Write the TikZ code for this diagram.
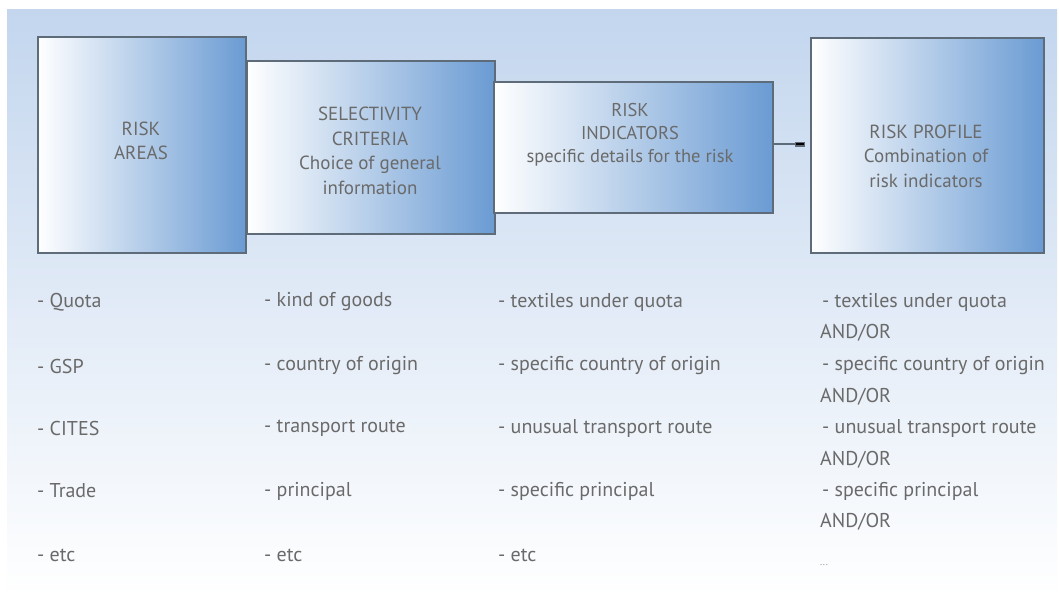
\documentclass[tikz,border=0pt]{standalone}
\usepackage{fontspec}
\setmainfont{PT Sans}
\usetikzlibrary{arrows.meta}
\definecolor{bgblue}{HTML}{C3D6EE}
\definecolor{boxblue}{HTML}{6A9BD3}
\definecolor{boxline}{HTML}{5E6B78}
\definecolor{txtgray}{HTML}{6A6A6A}
\tikzset{
  box/.style={draw=boxline, line width=1.6pt, left color=white, right color=boxblue, anchor=north west, inner sep=0pt},
  boxtext/.style={text=txtgray, align=center, font=\fontsize{19}{24.5}\selectfont},
  listtext/.style={text=txtgray, anchor=west, inner sep=0pt, font=\fontsize{20}{22}\selectfont},
  conn/.style={draw=boxline, line width=1.4pt, -{Rectangle[length=10pt,width=5pt,fill=black]}, shorten >=5pt}
}
\begin{document}
\begin{tikzpicture}[x=1pt,y=-1pt]
\useasboundingbox (0,0) rectangle (1059,605);
\fill[white] (0,0) rectangle (1059,605);
\shade[top color=bgblue, bottom color=white] (7,9) rectangle (1057,597);
% boxes
\node[box, minimum width=208pt, minimum height=216pt] (ra) at (37,36) {};
\node[box, minimum width=248pt, minimum height=173pt] (sc) at (246,60) {};
\node[box, minimum width=279pt, minimum height=131pt] (ri) at (493,81) {};
\node[box, minimum width=233pt, minimum height=215pt] (rp) at (810,37) {};
% box texts
\node[boxtext] (rat) at (141,141) {RISK\\AREAS};
\node[boxtext] (sct) at (370,151) {SELECTIVITY\\CRITERIA\\Choice of general\\information};
\node[boxtext, font=\fontsize{18.5}{23}\selectfont] (rit) at (630,135) {RISK\\INDICATORS\\specific details for the risk};
\node[boxtext] (rpt) at (926,156) {RISK PROFILE\\Combination of\\risk indicators};
% connector
\draw[conn] (ri.east |- 0,144) -- (rp.west |- 0,144);
% column 1
\node[listtext] (a1) at (37,302) {- Quota};
\node[listtext] (a2) at (37,366) {- GSP};
\node[listtext] (a3) at (37,428) {- CITES};
\node[listtext] (a4) at (37,491) {- Trade};
\node[listtext] (a5) at (37,555) {- etc};
% column 2
\node[listtext] (b1) at (264,302) {- kind of goods};
\node[listtext] (b2) at (264,366) {- country of origin};
\node[listtext] (b3) at (264,428) {- transport route};
\node[listtext] (b4) at (264,491) {- principal};
\node[listtext] (b5) at (264,555) {- etc};
% column 3
\node[listtext] (c1) at (498,302) {- textiles under quota};
\node[listtext] (c2) at (498,366) {- specific country of origin};
\node[listtext] (c3) at (498,428) {- unusual transport route};
\node[listtext] (c4) at (498,491) {- specific principal};
\node[listtext] (c5) at (498,555) {- etc};
% column 4
\node[listtext] (d1) at (822,302) {- textiles under quota};
\node[listtext] (d2) at (820,333) {AND/OR};
\node[listtext] (d3) at (822,366) {- specific country of origin};
\node[listtext] (d4) at (820,397) {AND/OR};
\node[listtext] (d5) at (822,428) {- unusual transport route};
\node[listtext] (d6) at (820,460) {AND/OR};
\node[listtext] (d7) at (822,491) {- specific principal};
\node[listtext] (d8) at (820,522) {AND/OR};
\node[listtext, font=\fontsize{10}{12}\selectfont, text=txtgray!70] (d9) at (820,565) {...};
\end{tikzpicture}
\end{document}
